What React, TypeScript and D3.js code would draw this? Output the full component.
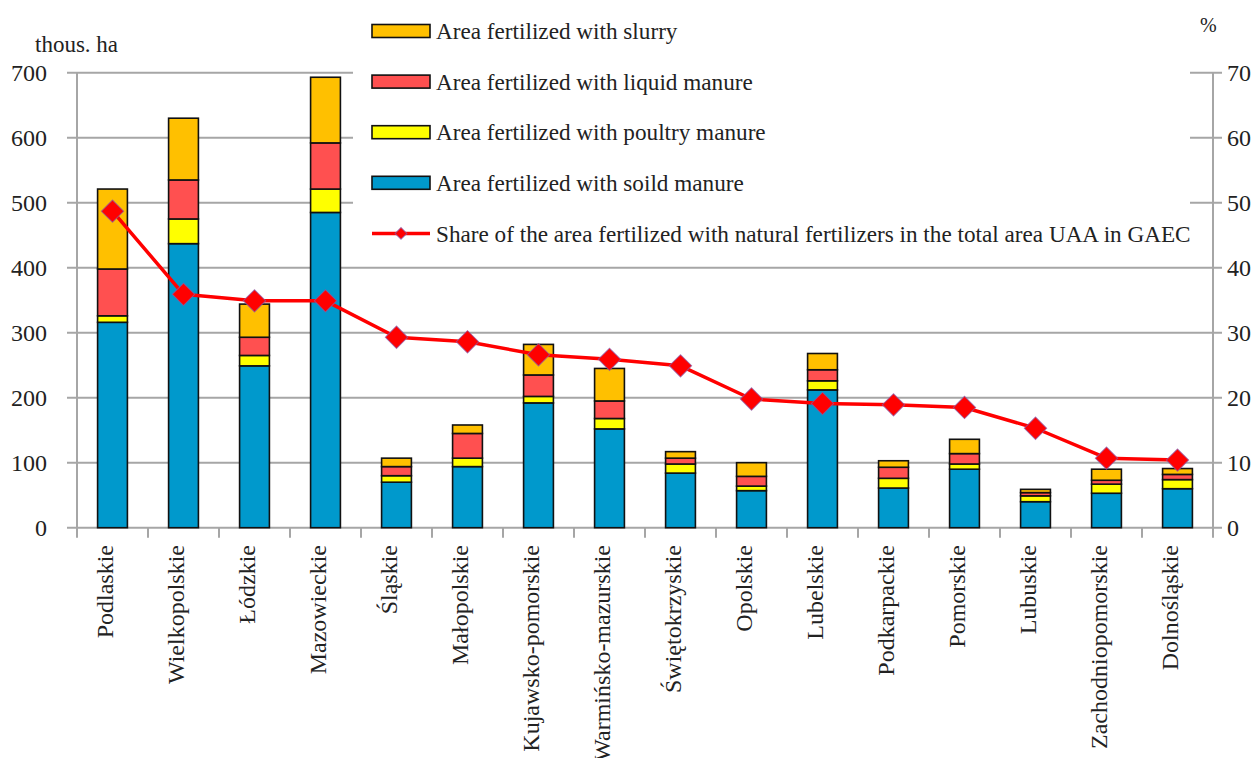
import React, { useMemo } from "react";
import * as d3 from "d3";

const WIDTH = 1256;
const HEIGHT = 758;
const MARGIN = { top: 72.7, right: 43, bottom: 230.3, left: 77 };
const FONT = "Liberation Serif, Times New Roman, Times, serif";

const regions = [
  "Podlaskie", "Wielkopolskie", "Łódzkie", "Mazowieckie", "Śląskie", "Małopolskie",
  "Kujawsko-pomorskie", "Warmińsko-mazurskie", "Świętokrzyskie", "Opolskie", "Lubelskie",
  "Podkarpackie", "Pomorskie", "Lubuskie", "Zachodniopomorskie", "Dolnośląskie",
];

// thous. ha
const solidManure = [316, 437, 249, 485, 70, 94, 192, 152, 84, 57, 212, 61, 90, 40, 53, 60];
const poultryManure = [10, 38, 16, 36, 10, 13, 10, 16, 14, 7, 14, 15, 8, 9, 14, 14];
const liquidManure = [72, 60, 28, 71, 14, 38, 33, 27, 9, 15, 17, 17, 16, 5, 6, 8];
const slurry = [123, 95, 51, 101, 13, 13, 47, 50, 10, 21, 25, 10, 22, 5, 17, 9];
// %
const sharePct = [48.7, 35.9, 34.9, 34.9, 29.3, 28.6, 26.6, 25.9, 24.9, 19.8, 19.1, 18.9, 18.5, 15.3, 10.7, 10.4];

const leftTicks = [0, 100, 200, 300, 400, 500, 600, 700];
const rightTicks = [0, 10, 20, 30, 40, 50, 60, 70];

const SERIES = [
  { key: "solid", label: "Area fertilized with soild manure", color: "#0099CC", values: solidManure },
  { key: "poultry", label: "Area fertilized with poultry manure", color: "#FFFF00", values: poultryManure },
  { key: "liquid", label: "Area fertilized with liquid manure", color: "#FF5050", values: liquidManure },
  { key: "slurry", label: "Area fertilized with slurry", color: "#FFC000", values: slurry },
];
const LINE_LABEL = "Share of the area fertilized with natural fertilizers in the total area UAA in GAEC";

const GRID = "#A6A6A6";

export default function App() {
  const x0 = MARGIN.left;
  const x1 = WIDTH - MARGIN.right;
  const yBottom = HEIGHT - MARGIN.bottom;

  const xScale = useMemo(() => d3.scaleBand<string>().domain(regions).range([x0, x1]).padding(0), []);
  const yLeft = useMemo(() => d3.scaleLinear().domain([0, 700]).range([yBottom, MARGIN.top]), []);
  const yRight = useMemo(() => d3.scaleLinear().domain([0, 70]).range([yBottom, MARGIN.top]), []);

  const rows = regions.map((r, i) => {
    const row: Record<string, any> = { region: r };
    SERIES.forEach((s) => (row[s.key] = s.values[i]));
    return row;
  });
  const stacked = d3.stack().keys(SERIES.map((s) => s.key))(rows as any);

  const barW = xScale.bandwidth() * 0.42;
  const cx = (r: string) => (xScale(r) ?? 0) + xScale.bandwidth() / 2;

  const linePath = d3
    .line<number>()
    .x((_, i) => cx(regions[i]))
    .y((d) => yRight(d))(sharePct);

  const diamond = d3.symbol().type(d3.symbolSquare).size(250)();
  const smallDiamond = d3.symbol().type(d3.symbolSquare).size(70)();

  const legendItems = [...SERIES].reverse();
  const legendX = 372;
  const legendY0 = 31;
  const legendStep = 50.6;

  const txt = { fontFamily: FONT, fill: "#222" } as const;

  return (
    <svg width={WIDTH} height={HEIGHT} style={{ position: "absolute", left: 0, top: 0, background: "#fff", fontFamily: FONT }}>
      {/* gridlines with outer ticks */}
      {leftTicks.map((t) => (
        <line key={`g${t}`} x1={67} x2={1222} y1={yLeft(t)} y2={yLeft(t)} stroke={GRID} strokeWidth={2} />
      ))}
      {/* axes */}
      <line x1={x0} x2={x0} y1={MARGIN.top} y2={yBottom} stroke={GRID} strokeWidth={2} />
      <line x1={x1} x2={x1} y1={MARGIN.top} y2={yBottom} stroke={GRID} strokeWidth={2} />
      {d3.range(regions.length + 1).map((i) => {
        const xx = x0 + i * xScale.step();
        return <line key={`xt${i}`} x1={xx} x2={xx} y1={yBottom} y2={yBottom + 10} stroke={GRID} strokeWidth={2} />;
      })}

      {/* bars */}
      {stacked.map((layer, li) => (
        <g key={SERIES[li].key}>
          {layer.map((d, i) => (
            <rect
              key={i}
              x={cx(regions[i]) - barW / 2}
              y={yLeft(d[1])}
              width={barW}
              height={yLeft(d[0]) - yLeft(d[1])}
              fill={SERIES[li].color}
              stroke="#111"
              strokeWidth={1.6}
            />
          ))}
        </g>
      ))}

      {/* white boxes behind the titles and legend */}
      <rect x={0} y={0} width={150} height={70} fill="#fff" />
      <rect x={353} y={0} width={837} height={252} fill="#fff" />

      {/* line */}
      <path d={linePath ?? ""} fill="none" stroke="#FF0000" strokeWidth={3.5} strokeLinejoin="round" />
      {sharePct.map((v, i) => (
        <path
          key={i}
          d={diamond ?? ""}
          transform={`translate(${cx(regions[i])},${yRight(v)}) rotate(45)`}
          fill="#FF0000"
          stroke="#8A5AA8"
          strokeOpacity={0.7}
          strokeWidth={1}
        />
      ))}

      {/* left tick labels */}
      {leftTicks.map((t) => (
        <text key={`l${t}`} x={47} y={yLeft(t)} dy="0.35em" textAnchor="end" fontSize={24} style={txt}>
          {t}
        </text>
      ))}
      {/* right tick labels */}
      {rightTicks.map((t) => (
        <text key={`r${t}`} x={1227} y={yRight(t)} dy="0.35em" textAnchor="start" fontSize={24} style={txt}>
          {t}
        </text>
      ))}
      <text x={35} y={52} fontSize={23} style={txt}>thous. ha</text>
      <text x={1200} y={32} fontSize={20} style={txt}>%</text>

      {/* category labels */}
      {regions.map((r) => (
        <text
          key={r}
          transform={`translate(${cx(r)},545) rotate(-90)`}
          textAnchor="end"
          fontSize={24}
          style={txt}
        >
          {r}
        </text>
      ))}

      {/* legend */}
      {legendItems.map((s, i) => (
        <g key={s.key} transform={`translate(${legendX},${legendY0 + i * legendStep})`}>
          <rect x={0} y={-6.5} width={58} height={13} fill={s.color} stroke="#111" strokeWidth={1.6} />
          <text x={64} y={0} dy="0.35em" fontSize={23.2} style={txt}>{s.label}</text>
        </g>
      ))}
      <g transform={`translate(${legendX},${legendY0 + 4 * legendStep})`}>
        <line x1={0} x2={58} y1={0} y2={0} stroke="#FF0000" strokeWidth={3.5} />
        <path d={smallDiamond ?? ""} transform="translate(29,0) rotate(45)" fill="#FF0000" stroke="#8A5AA8" strokeOpacity={0.7} />
        <text x={64} y={0} dy="0.35em" fontSize={23.2} style={txt}>{LINE_LABEL}</text>
      </g>
    </svg>
  );
}
